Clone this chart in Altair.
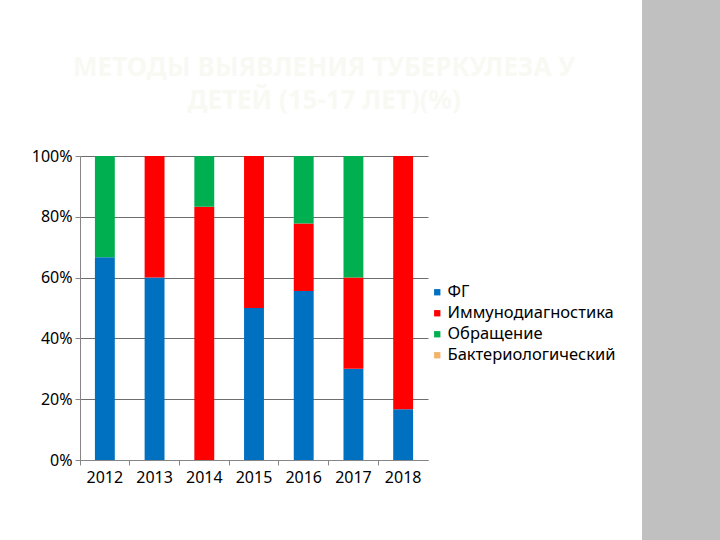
import altair as alt
import pandas as pd

years = ["2012", "2013", "2014", "2015", "2016", "2017", "2018"]
series = ["ФГ", "Иммунодиагностика", "Обращение", "Бактериологический"]
fg = [66.7, 60.0, 0.0, 50.0, 55.6, 30.0, 16.7]
immuno = [0.0, 40.0, 83.3, 50.0, 22.2, 30.0, 83.3]
obr = [33.3, 0.0, 16.7, 0.0, 22.2, 40.0, 0.0]
bakt = [0.0, 0.0, 0.0, 0.0, 0.0, 0.0, 0.0]
colors = ["#0070c0", "#ff0000", "#00b050", "#f2b469"]
title_lines = ["МЕТОДЫ ВЫЯВЛЕНИЯ ТУБЕРКУЛЕЗА У", "ДЕТЕЙ (15-17 ЛЕТ)(%)"]

rows = []
for si, (name, vals) in enumerate(zip(series, [fg, immuno, obr, bakt])):
    for y, v in zip(years, vals):
        rows.append({"year": y, "series": name, "value": v, "idx": si})
df = pd.DataFrame(rows)

FONT = "Noto Sans"

bars = alt.Chart(df).mark_bar(width=alt.RelativeBandSize(0.4)).encode(
    x=alt.X("year:N", sort=years, title=None,
            scale=alt.Scale(paddingInner=0, paddingOuter=0),
            axis=alt.Axis(labelAngle=0, bandPosition=0, domainColor="#868686",
                          tickColor="#868686", tickSize=5, labelFontSize=16,
                          labelColor="#000000", labelPadding=4, labelFont=FONT)),
    y=alt.Y("value:Q", stack="zero", title=None,
            scale=alt.Scale(domain=[0, 100]),
            axis=alt.Axis(values=[0, 20, 40, 60, 80, 100],
                          labelExpr="datum.value + '%'",
                          gridColor="#6e6e6e", gridWidth=1,
                          domainColor="#868686", tickColor="#868686", tickSize=5,
                          labelFontSize=16, labelColor="#000000", labelPadding=3,
                          labelFont=FONT)),
    color=alt.Color("series:N", sort=series,
                    scale=alt.Scale(domain=series, range=colors),
                    legend=alt.Legend(title=None, orient="none", legendX=349, legendY=128,
                                      symbolType="square", symbolSize=40,
                                      symbolStrokeWidth=0, labelFontSize=16.5,
                                      labelFont=FONT, labelColor="#000000",
                                      labelLimit=400,
                                      rowPadding=4, labelOffset=2,
                                      symbolOffset=0)),
    order=alt.Order("idx:Q"),
)

strip = alt.Chart(pd.DataFrame({"a": [0]})).mark_rect(color="#c0c0c0").encode(
    x=alt.value(562), x2=alt.value(650), y=alt.value(-170), y2=alt.value(400)
)

title = alt.Chart(pd.DataFrame({"t": [title_lines]})).mark_text(
    font=FONT, fontSize=26, fontWeight="bold", color="#f9f9f4",
    lineHeight=33, baseline="middle", align="center"
).encode(text="t", x=alt.value(244), y=alt.value(-88))

chart = alt.layer(strip, title, bars).properties(
    width=348, height=304,
    padding={"left": 80, "top": 156, "right": 292, "bottom": 80},
    autosize=alt.AutoSizeParams(type="none"),
    background="#ffffff",
).configure_view(stroke=None)

chart.save("out.html", embed_options={"renderer": "svg", "actions": False})
